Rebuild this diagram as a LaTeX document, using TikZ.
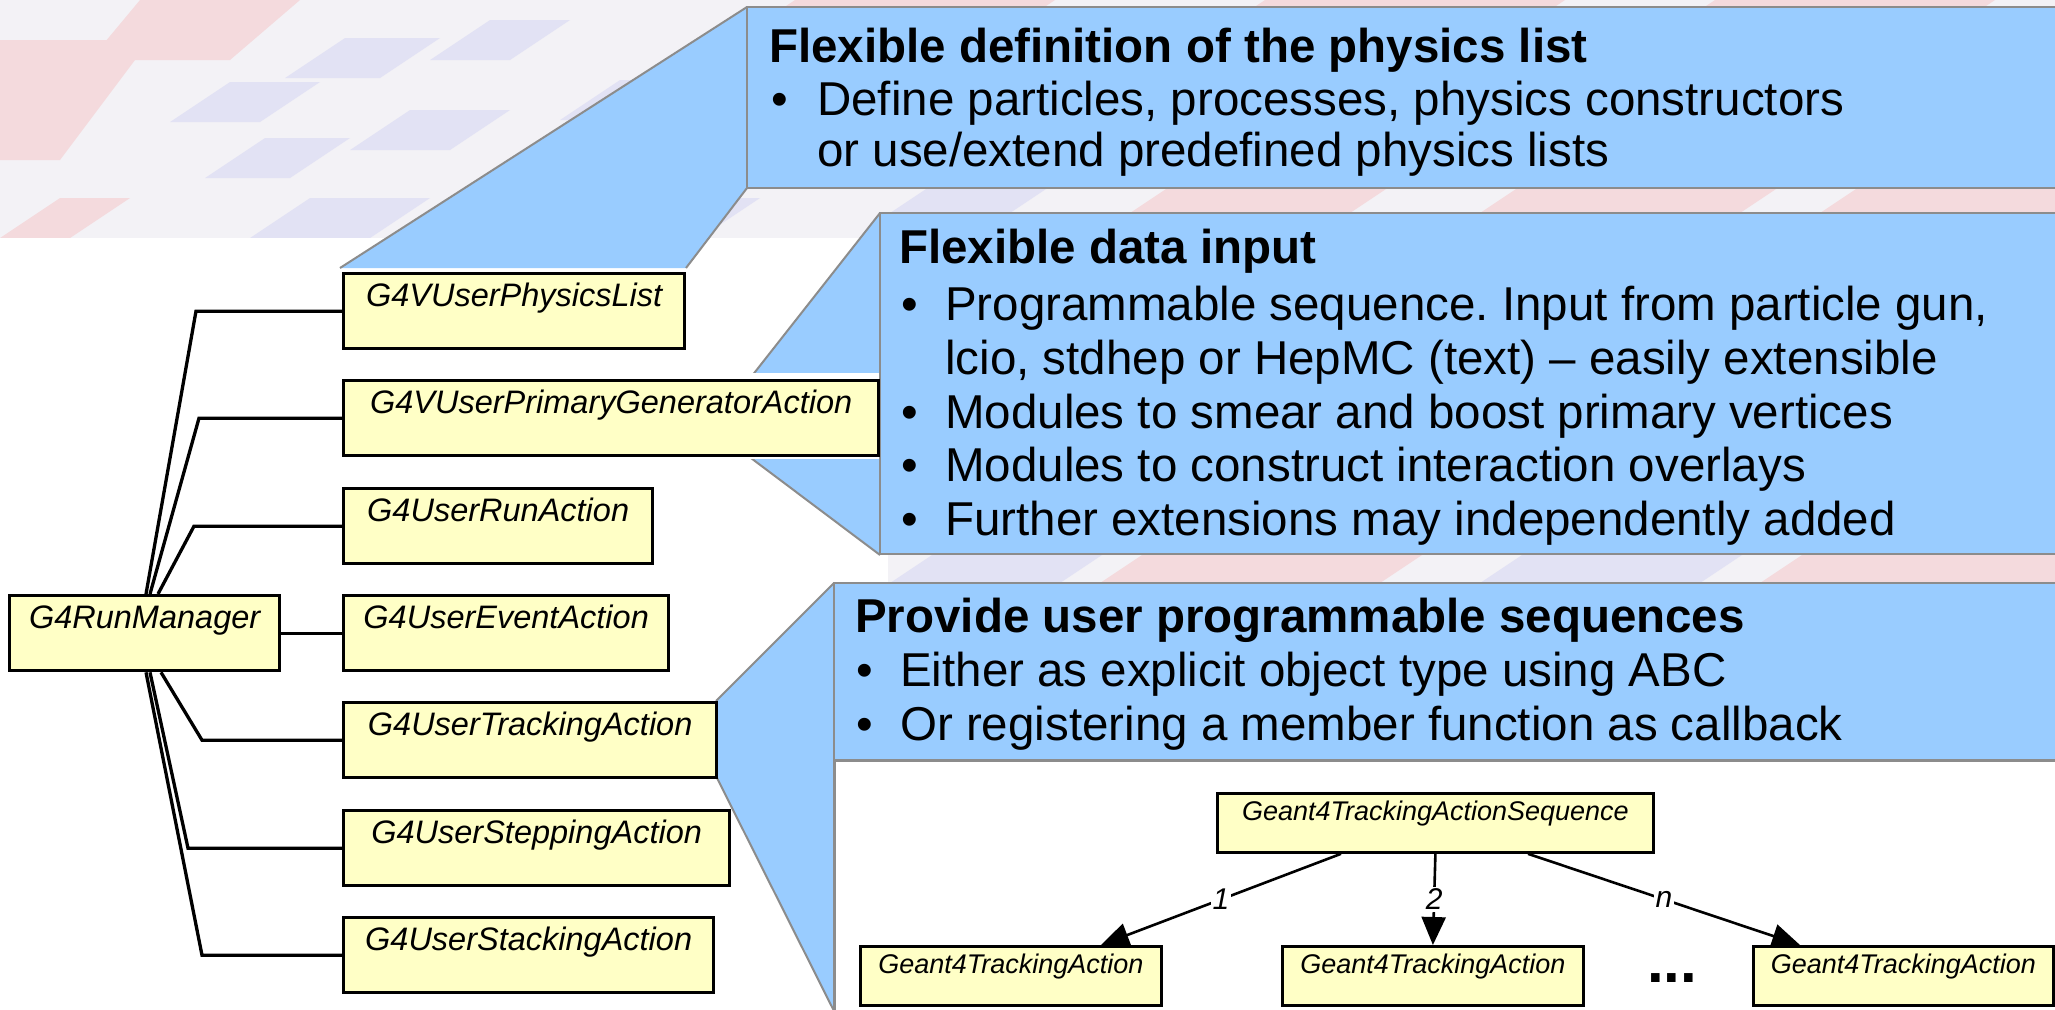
\documentclass[tikz,border=0pt]{standalone}
\usepackage{fontspec}
\setmainfont{Liberation Sans}
\usetikzlibrary{arrows.meta}
\frenchspacing

\definecolor{calloutblue}{HTML}{99CCFF}
\definecolor{calloutedge}{HTML}{8C8C8C}
\definecolor{classfill}{HTML}{FFFFC6}
\definecolor{bgbase}{HTML}{F3F2F6}
\definecolor{bgpink}{HTML}{F4DADD}
\definecolor{bglilac}{HTML}{E2E2F4}

\tikzset{
  cls/.style={draw, line width=3.3pt, fill=classfill, anchor=north west,
    inner xsep=0pt, inner ysep=0pt, text height=33pt, text depth=42pt,
    font=\fontsize{32.5}{39}\selectfont\itshape},
  subcls/.style={draw, line width=2.8pt, fill=classfill, anchor=north west,
    inner sep=0pt, text height=27pt, text depth=32pt,
    font=\fontsize{27}{32}\selectfont\itshape},
  tree/.style={line width=3.3pt},
  calloutfill/.style={fill=calloutblue},
  calloutline/.style={draw=calloutedge, line width=2pt},
  ctitle/.style={anchor=base west, inner sep=0pt, font=\fontsize{47.5}{54}\selectfont\bfseries},
  ctext/.style={anchor=base west, inner sep=0pt, font=\fontsize{47.5}{54}\selectfont},
  seqarrow/.style={line width=2.6pt, -{Triangle[length=28pt,width=24pt]}},
  mult/.style={fill=white, inner sep=2pt, font=\fontsize{30}{34}\selectfont\itshape},
}

\begin{document}
\begin{tikzpicture}[x=1pt,y=-1pt]
\useasboundingbox (0,0) rectangle (2055,1009);

% faded backdrop with pale streaks
\fill[bgbase] (0,0) rectangle (2055,1009);
\fill[bgpink] (0,40) -- (150,40) -- (60,160) -- (0,160) -- cycle;
\fill[bgpink] (140,0) -- (300,0) -- (230,60) -- (90,60) -- cycle;
\foreach \px/\py/\w/\c in {
  170/122/90/bglilac, 205/178/85/bglilac, 285/78/95/bglilac, 350/150/100/bglilac,
  430/60/80/bglilac, 480/210/110/bglilac, 560/120/70/bglilac, 610/238/90/bglilac,
  250/238/120/bglilac, 390/238/60/bglilac, 0/238/70/bgpink,
  780/10/260/bgpink, 1250/10/300/bgpink, 1700/10/280/bgpink,
  890/213/120/bglilac, 1130/213/220/bgpink, 1480/213/260/bgpink, 1820/213/240/bgpink,
  890/583/170/bglilac, 1100/583/280/bgpink, 1480/583/220/bglilac, 1760/583/300/bgpink}
  \fill[\c] (\px,\py) -- ++(\w,0) -- ++(60,-40) -- ++(-\w,0) -- cycle;

% white sheet behind the class tree
\fill[white] (0,238) rectangle (888,1009);

% callout: physics list
\fill[calloutfill] (747,7) -- (340,268) -- (686,268) -- (747,188) -- cycle;
\draw[calloutline] (747,7) -- (340,268);
\draw[calloutline] (747,188) -- (686,268);
\filldraw[calloutfill, calloutline] (747,7) rectangle (2075,188);

% callout: data input
\fill[calloutfill] (880,213) -- (711,428) -- (880,555) -- cycle;
\draw[calloutline] (880,213) -- (711,428) -- (880,555);
\fill[white] (700,373) rectangle (879,459);
\filldraw[calloutfill, calloutline] (880,213) rectangle (2075,554);

% callout: programmable sequences
\fill[calloutfill] (834,583) -- (716,701) -- (716,776) -- (834,1011) -- cycle;
\draw[calloutline] (834,583) -- (716,701);
\draw[calloutline] (716,776) -- (834,1011);
\filldraw[calloutfill, calloutline] (834,583) rectangle (2075,760);
\filldraw[fill=white, draw=calloutedge, line width=3pt] (834,760) rectangle (2075,1020);

% class tree
\node[cls, minimum width=341pt] (PL) at (342,272) {G4VUserPhysicsList};
\node[cls, minimum width=535pt] (PG) at (342,379) {G4VUserPrimaryGeneratorAction};
\node[cls, minimum width=309pt] (RA) at (342,487) {G4UserRunAction};
\node[cls, minimum width=270pt] (RM) at (8,594)   {G4RunManager};
\node[cls, minimum width=325pt] (EA) at (342,594) {G4UserEventAction};
\node[cls, minimum width=373pt] (TA) at (342,701) {G4UserTrackingAction};
\node[cls, minimum width=386pt] (SA) at (342,809) {G4UserSteppingAction};
\node[cls, minimum width=370pt] (ST) at (342,916) {G4UserStackingAction};

\draw[tree] ([xshift=138pt]RM.north west) -- (196,0 |- PL.west) -- (PL.west);
\draw[tree] ([xshift=142pt]RM.north west) -- (199,0 |- PG.west) -- (PG.west);
\draw[tree] ([xshift=150pt]RM.north west) -- (194,0 |- RA.west) -- (RA.west);
\draw[tree] (RM.east) -- (EA.west);
\draw[tree] ([xshift=153pt]RM.south west) -- (202,0 |- TA.west) -- (TA.west);
\draw[tree] ([xshift=142pt]RM.south west) -- (188,0 |- SA.west) -- (SA.west);
\draw[tree] ([xshift=138pt]RM.south west) -- (202,0 |- ST.west) -- (ST.west);

% tracking action sequence
\node[subcls, minimum width=436pt] (SEQ) at (1216,792) {Geant4TrackingActionSequence};
\node[subcls, minimum width=301pt] (TA1) at (859,945)  {Geant4TrackingAction};
\node[subcls, minimum width=301pt] (TA2) at (1281,945) {Geant4TrackingAction};
\node[subcls, minimum width=300pt] (TAN) at (1752,945) {Geant4TrackingAction};
\node[anchor=base, inner sep=0pt, font=\fontsize{60}{60}\selectfont\bfseries] (dots) at (1672,982) {...};

\draw[seqarrow] ([xshift=125pt]SEQ.south west) -- node[mult] {1} ([xshift=242pt]TA1.north west);
\draw[seqarrow] (SEQ.south) -- node[mult] {2} (TA2.north);
\draw[seqarrow] ([xshift=312pt]SEQ.south west) -- node[mult] {n} ([xshift=48pt]TAN.north west);

% callout texts
\node[ctitle] (c1t) at (769,62)  {Flexible definition of the physics list};
\node[ctext]  (c1b) at (771,115) {•};
\node[ctext]  (c1a) at (817,115) {Define particles, processes, physics constructors};
\node[ctext]  (c1c) at (817,166) {or use/extend predefined physics lists};

\node[ctitle] (c2t) at (899,263) {Flexible data input};
\node[ctext]  (c2b1) at (901,320) {•};
\node[ctext]  (c2a) at (945,320) {Programmable sequence. Input from particle gun,};
\node[ctext]  (c2c) at (945,374) {lcio, stdhep or HepMC (text) – easily extensible};
\node[ctext]  (c2b2) at (901,428) {•};
\node[ctext]  (c2d) at (945,428) {Modules to smear and boost primary vertices};
\node[ctext]  (c2b3) at (901,481) {•};
\node[ctext]  (c2e) at (945,481) {Modules to construct interaction overlays};
\node[ctext]  (c2b4) at (901,535) {•};
\node[ctext]  (c2f) at (945,535) {Further extensions may independently added};

\node[ctitle] (c3t) at (855,632) {Provide user programmable sequences};
\node[ctext]  (c3b1) at (856,686) {•};
\node[ctext]  (c3a) at (900,686) {Either as explicit object type using ABC};
\node[ctext]  (c3b2) at (856,740) {•};
\node[ctext]  (c3c) at (900,740) {Or registering a member function as callback};
\end{tikzpicture}
\end{document}
